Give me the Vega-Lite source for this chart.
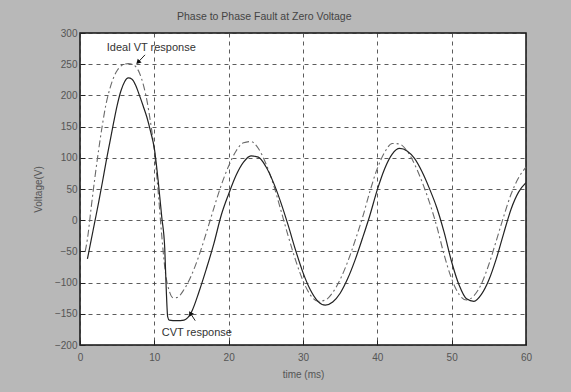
{
  "$schema": "https://vega.github.io/schema/vega-lite/v6.json",
  "width": 446,
  "height": 312,
  "autosize": {"type": "none"},
  "padding": {"left": 80, "top": 33, "right": 45, "bottom": 47},
  "background": "#b8b8b8",
  "view": {"fill": "white", "stroke": "#111", "strokeWidth": 1.5},
  "title": {"text": "Phase to Phase Fault at Zero Voltage", "anchor": "start", "frame": "group", "dx": 97, "offset": 6, "font": "Liberation Sans", "fontSize": 10.5, "fontWeight": "normal", "color": "#444"},
  "config": {
    "axis": {"labelFont": "Liberation Sans", "labelFontSize": 10, "labelColor": "#555", "titleFont": "Liberation Sans", "titleFontSize": 10, "titleColor": "#555", "titleFontWeight": "normal", "domain": false, "tickColor": "#222", "tickSize": -5, "gridDash": [4, 4], "gridColor": "#333", "gridOpacity": 0.8, "labelFlush": false, "labelOverlap": false}
  },
  "datasets": {
    "ideal": [
      {"t":0.7,"v":-50},{"t":1,"v":-30},{"t":1.5,"v":20},{"t":2,"v":68},{"t":2.5,"v":112},{"t":3,"v":152},{"t":3.5,"v":186},{"t":4,"v":210},{"t":4.5,"v":228},{"t":5,"v":240},{"t":5.5,"v":247},{"t":6,"v":250},{"t":6.5,"v":251},{"t":7,"v":250},{"t":7.5,"v":246},{"t":8,"v":236},{"t":8.5,"v":218},{"t":9,"v":192},{"t":9.5,"v":156},{"t":10,"v":112},{"t":10.5,"v":48},{"t":11,"v":-25},{"t":11.5,"v":-85},{"t":12,"v":-113},{"t":12.5,"v":-124},{"t":13,"v":-124},{"t":14,"v":-111},{"t":15,"v":-88},{"t":16,"v":-57},{"t":17,"v":-20},{"t":18,"v":19},{"t":19,"v":56},{"t":20,"v":87},{"t":21,"v":111},{"t":22,"v":124},{"t":23,"v":126},{"t":24,"v":115},{"t":25,"v":91},{"t":26,"v":58},{"t":27,"v":17},{"t":28,"v":-25},{"t":29,"v":-64},{"t":30,"v":-97},{"t":31,"v":-120},{"t":32,"v":-130},{"t":33,"v":-128},{"t":34,"v":-116},{"t":35,"v":-95},{"t":36,"v":-67},{"t":37,"v":-33},{"t":38,"v":4},{"t":39,"v":46},{"t":40,"v":83},{"t":41,"v":109},{"t":42,"v":123},{"t":43,"v":122},{"t":44,"v":111},{"t":45,"v":90},{"t":46,"v":62},{"t":47,"v":29},{"t":48,"v":-10},{"t":49,"v":-56},{"t":50,"v":-94},{"t":51,"v":-119},{"t":52,"v":-128},{"t":53,"v":-121},{"t":54,"v":-102},{"t":55,"v":-71},{"t":56,"v":-33},{"t":57,"v":6},{"t":58,"v":42},{"t":59,"v":68},{"t":60,"v":85}
    ],
    "cvt": [
      {"t":1,"v":-62},{"t":1.5,"v":-32},{"t":2,"v":-2},{"t":2.5,"v":28},{"t":3,"v":60},{"t":3.5,"v":93},{"t":4,"v":124},{"t":4.5,"v":155},{"t":5,"v":184},{"t":5.5,"v":207},{"t":6,"v":222},{"t":6.5,"v":228},{"t":7,"v":226},{"t":7.5,"v":216},{"t":8,"v":200},{"t":8.5,"v":183},{"t":9,"v":165},{"t":9.5,"v":142},{"t":10,"v":115},{"t":10.5,"v":65},{"t":11,"v":5},{"t":11.4,"v":-45},{"t":11.6,"v":-110},{"t":11.8,"v":-155},{"t":12,"v":-160},{"t":13,"v":-161},{"t":14,"v":-160},{"t":14.5,"v":-156},{"t":15,"v":-147},{"t":16,"v":-115},{"t":17,"v":-78},{"t":18,"v":-38},{"t":19,"v":8},{"t":20,"v":42},{"t":21,"v":72},{"t":22,"v":93},{"t":23,"v":103},{"t":24,"v":101},{"t":25,"v":86},{"t":26,"v":61},{"t":27,"v":29},{"t":28,"v":-8},{"t":29,"v":-48},{"t":30,"v":-84},{"t":31,"v":-112},{"t":32,"v":-130},{"t":33,"v":-136},{"t":34,"v":-131},{"t":35,"v":-117},{"t":36,"v":-94},{"t":37,"v":-64},{"t":38,"v":-29},{"t":39,"v":8},{"t":40,"v":49},{"t":41,"v":83},{"t":42,"v":106},{"t":43,"v":115},{"t":44,"v":111},{"t":45,"v":99},{"t":46,"v":78},{"t":47,"v":51},{"t":48,"v":20},{"t":49,"v":-20},{"t":50,"v":-67},{"t":51,"v":-104},{"t":52,"v":-126},{"t":53,"v":-130},{"t":54,"v":-119},{"t":55,"v":-96},{"t":56,"v":-62},{"t":57,"v":-21},{"t":58,"v":18},{"t":59,"v":45},{"t":60,"v":60}
    ],
    "labels": [
      {"t": 3.6, "v": 276, "label": "Ideal VT response"},
      {"t": 11.0, "v": -180, "label": "CVT response"}
    ],
    "arrows": [
      {"t": 8.75, "v": 265, "t2": 7.8, "v2": 253, "angle": 225},
      {"t": 15.5, "v": -161, "t2": 14.85, "v2": -149, "angle": 328}
    ]
  },
  "encoding": {
    "x": {"field": "t", "type": "quantitative", "scale": {"domain": [0, 60], "nice": false}, "axis": {"values": [0, 10, 20, 30, 40, 50, 60], "title": "time (ms)", "labelPadding": 12, "titlePadding": 7}},
    "y": {"field": "v", "type": "quantitative", "scale": {"domain": [-200, 300], "nice": false}, "axis": {"values": [-200, -150, -100, -50, 0, 50, 100, 150, 200, 250, 300], "title": "Voltage(V)", "labelPadding": 8, "titlePadding": 11}}
  },
  "layer": [
    {
      "data": {"name": "ideal"},
      "mark": {"type": "line", "color": "#6a6a6a", "strokeWidth": 1.1, "strokeDash": [7, 3, 2, 3], "interpolate": "monotone", "clip": true}
    },
    {
      "data": {"name": "cvt"},
      "mark": {"type": "line", "color": "#222", "strokeWidth": 1.2, "interpolate": "monotone", "clip": true}
    },
    {
      "data": {"name": "labels"},
      "mark": {"type": "text", "align": "left", "baseline": "middle", "font": "Liberation Sans", "fontSize": 11, "color": "#333"},
      "encoding": {
        "text": {"field": "label"}
      }
    },
    {
      "data": {"name": "arrows"},
      "mark": {"type": "rule", "color": "#222", "strokeWidth": 1},
      "encoding": {
        "x2": {"field": "t2"},
        "y2": {"field": "v2"}
      }
    },
    {
      "data": {"name": "arrows"},
      "mark": {"type": "point", "shape": "triangle-up", "filled": true, "color": "#111", "size": 30, "opacity": 1},
      "encoding": {
        "x": {"field": "t2", "type": "quantitative"},
        "y": {"field": "v2", "type": "quantitative"},
        "angle": {"field": "angle", "type": "quantitative", "scale": null}
      }
    }
  ]
}
